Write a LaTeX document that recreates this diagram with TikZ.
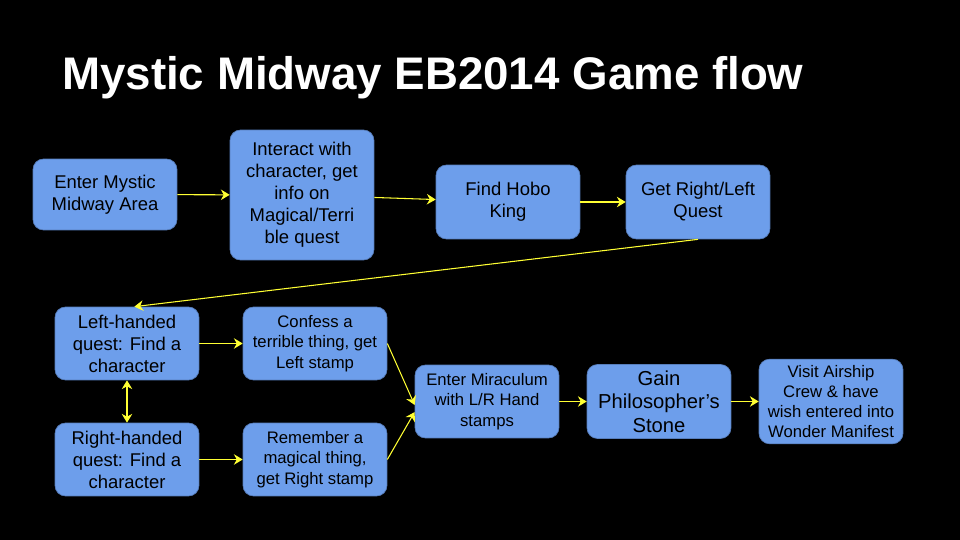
\documentclass[tikz,border=0pt]{standalone}
\usepackage{fontspec}
\setmainfont{Liberation Sans}
\usetikzlibrary{positioning,arrows.meta}
\definecolor{boxblue}{HTML}{6D9EEB}
\definecolor{arrowyellow}{HTML}{FFFF33}
\tikzset{stepbox/.style={draw=boxblue!80!black, fill=boxblue, rounded corners=6pt, align=center,
		minimum width=2.88cm, font=\fontsize{10.5}{12.5}\selectfont},
	smallbox/.style={stepbox, font=\fontsize{9.5}{11.5}\selectfont},
	flow/.style={draw=arrowyellow, semithick, -{Stealth[length=5pt,width=6pt]}}}
\begin{document}
\begin{tikzpicture}[x=0.02cm, y=-0.02cm]
	\useasboundingbox[fill=black] (0,0) rectangle (960,540);
	\node[anchor=base west, text=white, font=\fontsize{26}{30}\selectfont\bfseries] (title) at (56,90) {Mystic Midway EB2014 Game flow};
	\node[stepbox, minimum height=1.42cm] (enter) at (105,194.5) {Enter Mystic\\Midway Area};
	\node[stepbox, minimum height=2.6cm] (interact) at (302,195) {Interact with\\character, get\\info on\\Magical/Terri\\ble quest};
	\node[stepbox, minimum height=1.48cm] (hobo) at (508,202) {Find Hobo\\King};
	\node[stepbox, minimum height=1.48cm] (quest) at (698,202) {Get Right/Left\\Quest};
	\node[stepbox, minimum height=1.46cm] (left) at (127,343.5) {Left-handed\\quest: Find a\\character};
	\node[smallbox, minimum height=1.46cm] (confess) at (315,343.5) {Confess a\\terrible thing, get\\Left stamp};
	\node[stepbox, minimum height=1.46cm] (right) at (127,459.5) {Right-handed\\quest: Find a\\character};
	\node[smallbox, minimum height=1.46cm] (remember) at (315,459.5) {Remember a\\magical thing,\\get Right stamp};
	\node[smallbox, minimum height=1.46cm] (miraculum) at (487,401.5) {Enter Miraculum\\with L/R Hand\\stamps};
	\node[stepbox, minimum height=1.26cm, font=\fontsize{11.5}{13.5}\selectfont] (stone) at (659,401.5) {Gain\\Philosopher’s\\Stone};
	\node[smallbox, minimum height=1.46cm] (airship) at (831,401.5) {Visit Airship\\Crew \& have\\wish entered into\\Wonder Manifest};
	% connectors
	\draw[flow] (enter) -- (interact);
	\draw[flow] (interact) -- (hobo);
	\draw[flow] (hobo) -- (quest);
	\draw[flow] (quest.south) -- ([xshift=-1.3cm]left.north east);
	\draw[flow, {Stealth[length=5pt,width=6pt]}-{Stealth[length=5pt,width=6pt]}] (left) -- (right);
	\draw[flow] (left) -- (confess);
	\draw[flow] (right) -- (remember);
	\draw[flow] (confess.east) -- ([yshift=-2pt]miraculum.west);
	\draw[flow] (remember.east) -- ([yshift=-6pt]miraculum.west);
	\draw[flow] (miraculum) -- (stone);
	\draw[flow] (stone) -- (airship);
\end{tikzpicture}
\end{document}
